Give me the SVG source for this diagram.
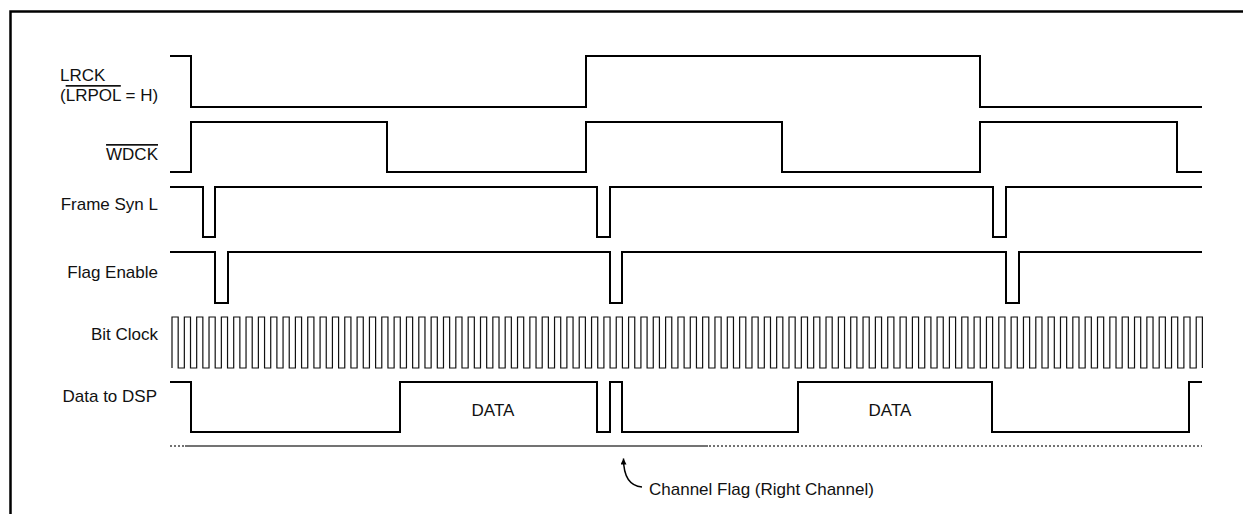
<svg xmlns="http://www.w3.org/2000/svg" width="1243" height="514" viewBox="0 0 1243 514">
<style>
.lbl{font-family:"Liberation Sans",Arial,Helvetica,sans-serif;font-size:17px;fill:#111}
.sig{fill:none;stroke:#000;stroke-width:2;stroke-linejoin:miter}
.clk{fill:none;stroke:#111;stroke-width:1.2}
.ol{text-decoration:overline}
</style>
<defs>
<marker id="ah" viewBox="0 0 10 10" refX="10" refY="5" markerUnits="userSpaceOnUse" markerWidth="12" markerHeight="6" orient="auto-start-reverse"><path d="M0,0 L10,5 L0,10 z" fill="#000"/></marker>
</defs>
<rect x="0" y="0" width="1243" height="514" fill="#fff"/>
<path d="M10.5,514 V11.5 H1243" fill="none" stroke="#000" stroke-width="2.5"/>
<g id="lrck">
<text class="lbl" x="60" y="81">LRCK</text>
<text class="lbl" x="60" y="101">(<tspan class="ol">LRPOL</tspan> = H)</text>
<path class="sig" d="M170,56 H191 V107 H586 V56 H980 V107 H1202"/>
</g>
<g id="wdck">
<text class="lbl ol" x="158" y="160" text-anchor="end">WDCK</text>
<path class="sig" d="M170,172 H191 V122 H387 V172 H586 V122 H782 V172 H980 V122 H1177 V172 H1202"/>
</g>
<g id="framesyn">
<text class="lbl" x="158" y="210" text-anchor="end">Frame Syn L</text>
<path class="sig" d="M170,187 H203 V237 H215 V187 H597 V237 H610 V187 H993 V237 H1006 V187 H1202"/>
</g>
<g id="flagenable">
<text class="lbl" x="158" y="278" text-anchor="end">Flag Enable</text>
<path class="sig" d="M170,252 H215 V303 H228 V252 H610 V303 H622 V252 H1006 V303 H1019 V252 H1202"/>
</g>
<g id="bitclock">
<text class="lbl" x="158" y="340" text-anchor="end">Bit Clock</text>
<path class="clk" d="M172,368V317
h6.17v51h6.17v-51h6.17v51h6.17v-51h6.17v51h6.17v-51h6.17v51h6.17v-51h6.17v51h6.17v-51h6.17v51h6.17v-51h6.17v51h6.17v-51h6.17v51h6.17v-51h6.17v51h6.17v-51h6.17v51h6.17v-51
h6.17v51h6.17v-51h6.17v51h6.17v-51h6.17v51h6.17v-51h6.17v51h6.17v-51h6.17v51h6.17v-51h6.17v51h6.17v-51h6.17v51h6.17v-51h6.17v51h6.17v-51h6.17v51h6.17v-51h6.17v51h6.17v-51
h6.17v51h6.17v-51h6.17v51h6.17v-51h6.17v51h6.17v-51h6.17v51h6.17v-51h6.17v51h6.17v-51h6.17v51h6.17v-51h6.17v51h6.17v-51h6.17v51h6.17v-51h6.17v51h6.17v-51h6.17v51h6.17v-51
h6.17v51h6.17v-51h6.17v51h6.17v-51h6.17v51h6.17v-51h6.17v51h6.17v-51h6.17v51h6.17v-51h6.17v51h6.17v-51h6.17v51h6.17v-51h6.17v51h6.17v-51h6.17v51h6.17v-51h6.17v51h6.17v-51
h6.17v51h6.17v-51h6.17v51h6.17v-51h6.17v51h6.17v-51h6.17v51h6.17v-51h6.17v51h6.17v-51h6.17v51h6.17v-51h6.17v51h6.17v-51h6.17v51h6.17v-51h6.17v51h6.17v-51h6.17v51h6.17v-51
h6.17v51h6.17v-51h6.17v51h6.17v-51h6.17v51h6.17v-51h6.17v51h6.17v-51h6.17v51h6.17v-51h6.17v51h6.17v-51h6.17v51h6.17v-51h6.17v51h6.17v-51h6.17v51h6.17v-51h6.17v51h6.17v-51
h6.17v51h6.17v-51h6.17v51h6.17v-51h6.17v51h6.17v-51h6.17v51h6.17v-51h6.17v51h6.17v-51h6.17v51h6.17v-51h6.17v51h6.17v-51h6.17v51h6.17v-51h6.17v51h6.17v-51h6.17v51h6.17v-51
h6.17v51h6.17v-51h6.17v51h6.17v-51h6.17v51h6.17v-51h6.17v51h6.17v-51h6.17v51h6.17v-51h6.17v51h6.17v-51h6.17v51h6.17v-51h6.17v51h6.17v-51h6.17v51h6.17v-51h6.17v51h6.17v-51
h6.17v51h6.17v-51h6.17v51h6.17v-51h6.17v51h6.17v-51
h6.17v51"/>
</g>
<g id="datatodsp">
<text class="lbl" x="157" y="402" text-anchor="end">Data to DSP</text>
<path class="sig" d="M170,382 H191 V432 H400 V382 H597 V432 H610 V382 H622 V432 H798 V382 H992 V432 H1189 V382 H1202"/>
<text class="lbl" x="493" y="416" text-anchor="middle">DATA</text>
<text class="lbl" x="890" y="416" text-anchor="middle">DATA</text>
</g>
<g id="timeline">
<path d="M170,446 H185" stroke="#444" stroke-width="1.5" stroke-dasharray="2 2" fill="none"/>
<path d="M185,446 H708" stroke="#444" stroke-width="1.5" fill="none"/>
<path d="M709,446 H1202" stroke="#444" stroke-width="1.5" stroke-dasharray="2 2" fill="none"/>
</g>
<g id="channelflag">
<text class="lbl" x="649" y="495">Channel Flag (Right Channel)</text>
</g>
<g id="connectors">
<path d="M623.5,458.5 C623.5,476 630,486 642,487" fill="none" stroke="#000" stroke-width="1.5" marker-start="url(#ah)"/>
</g>
</svg>
